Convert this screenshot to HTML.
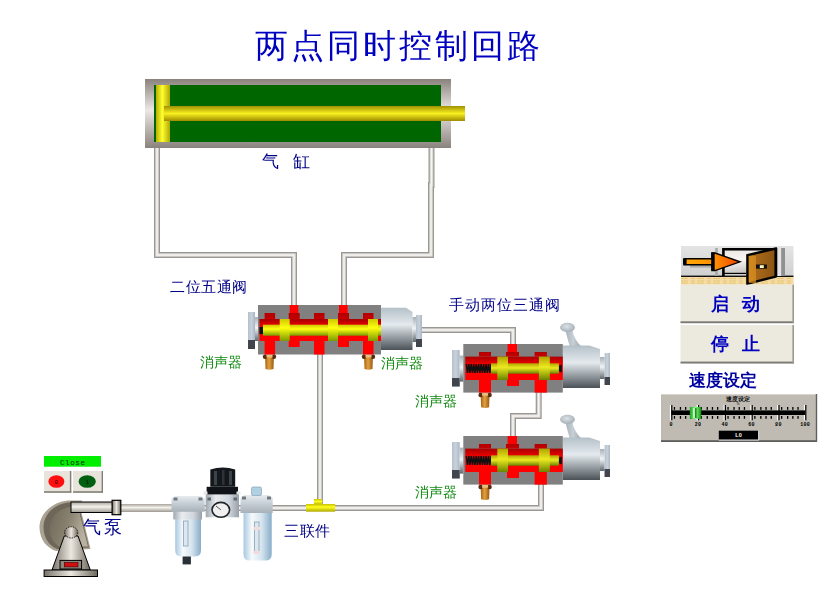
<!DOCTYPE html>
<html><head><meta charset="utf-8">
<style>
html,body{margin:0;padding:0;background:#fff;}
body{width:826px;height:596px;position:relative;overflow:hidden;font-family:"Liberation Sans",sans-serif;}
svg{position:absolute;left:0;top:0;}
.t{position:absolute;white-space:nowrap;line-height:1;font-weight:300;will-change:transform;}
.nv{color:#000088;font-weight:400;}
.ti{color:#0000c0;}
.gr{color:#108a10;font-weight:400;}
.b{font-weight:bold;color:#0000c0;}
</style></head><body>
<svg width="826" height="596" viewBox="0 0 826 596">

<defs>
  <linearGradient id="gFrame" x1="0" y1="0" x2="0" y2="1">
    <stop offset="0" stop-color="#8a827c"/><stop offset="0.45" stop-color="#ece8e6"/><stop offset="1" stop-color="#8a827c"/>
  </linearGradient>
  <linearGradient id="gPist" x1="0" y1="0" x2="1" y2="0">
    <stop offset="0" stop-color="#b8b000"/><stop offset="0.45" stop-color="#ffff30"/><stop offset="1" stop-color="#b0a800"/>
  </linearGradient>
  <linearGradient id="gRod" x1="0" y1="0" x2="0" y2="1">
    <stop offset="0" stop-color="#a09000"/><stop offset="0.5" stop-color="#f8f020"/><stop offset="1" stop-color="#a08c00"/>
  </linearGradient>
  <linearGradient id="gSpool" x1="0" y1="0" x2="0" y2="1">
    <stop offset="0" stop-color="#d0c800"/><stop offset="0.4" stop-color="#ffff10"/><stop offset="1" stop-color="#7a9a00"/>
  </linearGradient>
  <linearGradient id="gSpool2" x1="0" y1="0" x2="0" y2="1">
    <stop offset="0" stop-color="#b0a400"/><stop offset="0.45" stop-color="#ecea20"/><stop offset="1" stop-color="#6a8400"/>
  </linearGradient>
  <linearGradient id="gCap" x1="0" y1="0" x2="1" y2="0">
    <stop offset="0" stop-color="#b4c0cc"/><stop offset="0.5" stop-color="#c8d2dc"/><stop offset="1" stop-color="#aab6c2"/>
  </linearGradient>
  <linearGradient id="gNeck" x1="0" y1="0" x2="0" y2="1">
    <stop offset="0" stop-color="#a8b0b8"/><stop offset="0.45" stop-color="#f0f4f6"/><stop offset="1" stop-color="#60686e"/>
  </linearGradient>
  <linearGradient id="gBore" x1="0" y1="0" x2="0" y2="1">
    <stop offset="0" stop-color="#a80000"/><stop offset="0.4" stop-color="#ff0000"/><stop offset="1" stop-color="#ff0000"/>
  </linearGradient>
  <linearGradient id="gBump" x1="0" y1="0" x2="0" y2="1">
    <stop offset="0" stop-color="#b00000"/><stop offset="1" stop-color="#c80000"/>
  </linearGradient>
  <linearGradient id="gPilot" x1="0" y1="0" x2="0" y2="1">
    <stop offset="0" stop-color="#b4c0c8"/><stop offset="0.4" stop-color="#e4eaee"/><stop offset="1" stop-color="#4a5258"/>
  </linearGradient>
  <linearGradient id="gBrass" x1="0" y1="0" x2="1" y2="0">
    <stop offset="0" stop-color="#a86010"/><stop offset="0.45" stop-color="#e0a040"/><stop offset="1" stop-color="#9a5810"/>
  </linearGradient>
  <linearGradient id="gTee" x1="0" y1="0" x2="0" y2="1">
    <stop offset="0" stop-color="#c8c000"/><stop offset="0.4" stop-color="#ffff20"/><stop offset="1" stop-color="#b0a800"/>
  </linearGradient>
  <linearGradient id="gPumpPipe" x1="0" y1="0" x2="0" y2="1">
    <stop offset="0" stop-color="#a8a49c"/><stop offset="0.45" stop-color="#f4f2ec"/><stop offset="1" stop-color="#9c9890"/>
  </linearGradient>
  <linearGradient id="gCone" x1="0" y1="0" x2="1" y2="0">
    <stop offset="0" stop-color="#78726a"/><stop offset="0.5" stop-color="#ece8e0"/><stop offset="1" stop-color="#6e685e"/>
  </linearGradient>
  <linearGradient id="gSnail" x1="0" y1="0" x2="1" y2="1">
    <stop offset="0" stop-color="#c8c0b0"/><stop offset="0.5" stop-color="#7a7268"/><stop offset="1" stop-color="#b0a898"/>
  </linearGradient>
  <linearGradient id="gBowl" x1="0" y1="0" x2="1" y2="0">
    <stop offset="0" stop-color="#a8c8e0"/><stop offset="0.3" stop-color="#f6fafc"/><stop offset="0.65" stop-color="#d4e4ee"/><stop offset="1" stop-color="#88acc8"/>
  </linearGradient>
  <linearGradient id="gHead" x1="0" y1="0" x2="0" y2="1">
    <stop offset="0" stop-color="#e8ecf0"/><stop offset="0.5" stop-color="#c4ccd4"/><stop offset="1" stop-color="#a8b0b8"/>
  </linearGradient>
  <radialGradient id="gVol" cx="78" cy="532" r="40" gradientUnits="userSpaceOnUse">
    <stop offset="0" stop-color="#d8d0c0"/><stop offset="0.45" stop-color="#a89e8e"/><stop offset="0.75" stop-color="#6a6254"/><stop offset="0.88" stop-color="#7a7264"/><stop offset="0.95" stop-color="#b0a898"/><stop offset="1" stop-color="#c0b8a8"/>
  </radialGradient>
  <linearGradient id="gVol2" x1="0" y1="0" x2="1" y2="0.3">
    <stop offset="0" stop-color="#6e6658"/><stop offset="0.55" stop-color="#8a8270"/><stop offset="1" stop-color="#b8b0a0"/>
  </linearGradient>
  <linearGradient id="gSilv" x1="0" y1="0" x2="1" y2="0">
    <stop offset="0" stop-color="#a0a8b0"/><stop offset="0.3" stop-color="#e8ecf0"/><stop offset="0.7" stop-color="#d0d6dc"/><stop offset="1" stop-color="#98a0a8"/>
  </linearGradient>
  <linearGradient id="gIconBg" x1="0" y1="0" x2="0" y2="1">
    <stop offset="0" stop-color="#e4e4e4"/><stop offset="1" stop-color="#d0d0d0"/>
  </linearGradient>
  <linearGradient id="gFrameIn" x1="0" y1="0" x2="0.3" y2="1">
    <stop offset="0" stop-color="#e8e4e0"/><stop offset="0.5" stop-color="#f8f6f4"/><stop offset="1" stop-color="#c8c4c0"/>
  </linearGradient>
  <linearGradient id="gLever" x1="0" y1="0" x2="1" y2="0">
    <stop offset="0" stop-color="#a8b2ba"/><stop offset="0.5" stop-color="#c8d0d6"/><stop offset="1" stop-color="#98a4ac"/>
  </linearGradient>
  <radialGradient id="gBall" cx="0.45" cy="0.4" r="0.6">
    <stop offset="0" stop-color="#dce2e6"/><stop offset="1" stop-color="#a4b0b8"/>
  </radialGradient>
  <linearGradient id="gBtn" x1="0" y1="0" x2="0" y2="1">
    <stop offset="0" stop-color="#f2f0ea"/><stop offset="1" stop-color="#e4e0d6"/>
  </linearGradient>
  <linearGradient id="gArrow" x1="0" y1="0" x2="1" y2="0">
    <stop offset="0" stop-color="#ffa808"/><stop offset="0.55" stop-color="#ff9000"/><stop offset="1" stop-color="#f04000"/>
  </linearGradient>
  <linearGradient id="gDoor" x1="0" y1="0" x2="1" y2="0">
    <stop offset="0" stop-color="#c88020"/><stop offset="0.3" stop-color="#a86818"/><stop offset="1" stop-color="#8a5414"/>
  </linearGradient>
  <linearGradient id="gThumb" x1="0" y1="0" x2="1" y2="0">
    <stop offset="0" stop-color="#20a020"/><stop offset="0.5" stop-color="#80ff80"/><stop offset="1" stop-color="#109010"/>
  </linearGradient>
</defs>

<rect x="145" y="79" width="306" height="69" fill="url(#gFrame)" />
<rect x="154" y="85" width="287" height="57" fill="#006600" />
<rect x="156" y="85" width="14" height="57" fill="url(#gPist)" />
<rect x="164" y="106" width="301" height="15" fill="url(#gRod)" />
<polyline points="157,148 157,255 294,255 294,306" fill="none" stroke="#9a9692" stroke-width="6" stroke-linejoin="miter"/>
<polyline points="157,148 157,255 294,255 294,306" fill="none" stroke="#d8d6d2" stroke-width="3.6" stroke-linejoin="miter"/>
<polyline points="157,148 157,255 294,255 294,306" fill="none" stroke="#f6f5f3" stroke-width="1.4" stroke-linejoin="miter"/>
<polyline points="431.5,148 431.5,185 431,185 431,255 344,255 344,306" fill="none" stroke="#9a9692" stroke-width="6" stroke-linejoin="miter"/>
<polyline points="431.5,148 431.5,185 431,185 431,255 344,255 344,306" fill="none" stroke="#d8d6d2" stroke-width="3.6" stroke-linejoin="miter"/>
<polyline points="431.5,148 431.5,185 431,185 431,255 344,255 344,306" fill="none" stroke="#f6f5f3" stroke-width="1.4" stroke-linejoin="miter"/>
<polyline points="420,330 513,330 513,345" fill="none" stroke="#9a9692" stroke-width="6" stroke-linejoin="miter"/>
<polyline points="420,330 513,330 513,345" fill="none" stroke="#d8d6d2" stroke-width="3.6" stroke-linejoin="miter"/>
<polyline points="420,330 513,330 513,345" fill="none" stroke="#f6f5f3" stroke-width="1.4" stroke-linejoin="miter"/>
<polyline points="320,354 320,505" fill="none" stroke="#9a9692" stroke-width="6" stroke-linejoin="miter"/>
<polyline points="320,354 320,505" fill="none" stroke="#d8d6d2" stroke-width="3.6" stroke-linejoin="miter"/>
<polyline points="320,354 320,505" fill="none" stroke="#f6f5f3" stroke-width="1.4" stroke-linejoin="miter"/>
<polyline points="538.7,391 538.7,416 513,416 513,437" fill="none" stroke="#9a9692" stroke-width="6" stroke-linejoin="miter"/>
<polyline points="538.7,391 538.7,416 513,416 513,437" fill="none" stroke="#d8d6d2" stroke-width="3.6" stroke-linejoin="miter"/>
<polyline points="538.7,391 538.7,416 513,416 513,437" fill="none" stroke="#f6f5f3" stroke-width="1.4" stroke-linejoin="miter"/>
<polyline points="541,484 541,508 118,508" fill="none" stroke="#9a9692" stroke-width="6" stroke-linejoin="miter"/>
<polyline points="541,484 541,508 118,508" fill="none" stroke="#d8d6d2" stroke-width="3.6" stroke-linejoin="miter"/>
<polyline points="541,484 541,508 118,508" fill="none" stroke="#f6f5f3" stroke-width="1.4" stroke-linejoin="miter"/>
<g transform="translate(258,305)">
<rect x="-10" y="7" width="7" height="37" fill="url(#gCap)" />
<rect x="-10" y="35" width="7" height="9" fill="#40464c" />
<rect x="-3" y="12" width="3" height="24" fill="url(#gNeck)" />
<path d="M123,2.7 L148,2.7 L154.5,7 L154.5,45 L123,45 Z" fill="url(#gPilot)"/>
<rect x="154.5" y="12" width="3.5" height="25" fill="url(#gNeck)" />
<rect x="158" y="10" width="6" height="32" fill="url(#gCap)" />
<rect x="158" y="34" width="6" height="8" fill="#40464c" />
<rect x="0" y="0" width="123" height="49.5" fill="#808080" />
<rect x="1.5" y="14" width="121.5" height="22" fill="url(#gBore)" />
<rect x="6.6" y="8" width="10.5" height="6" fill="url(#gBump)" />
<rect x="56" y="8" width="10.5" height="6" fill="url(#gBump)" />
<rect x="105" y="8" width="10.5" height="6" fill="url(#gBump)" />
<rect x="31.7" y="0" width="8.6" height="8" fill="#ff0000" />
<rect x="30.7" y="8" width="11" height="6" fill="url(#gBump)" />
<rect x="81" y="0" width="8.6" height="8" fill="#ff0000" />
<rect x="80" y="8" width="11" height="6" fill="url(#gBump)" />
<rect x="6.6" y="36" width="10.5" height="13.5" fill="#ff0000" />
<rect x="56" y="36" width="10.5" height="13.5" fill="#ff0000" />
<rect x="105" y="36" width="10.5" height="13.5" fill="#ff0000" />
<rect x="30.7" y="36" width="11" height="6" fill="#ff0000" />
<rect x="80" y="36" width="11" height="6" fill="#ff0000" />
<rect x="5" y="19.7" width="118" height="11" fill="url(#gSpool)" />
<rect x="1.5" y="22" width="3.5" height="7" fill="#101010" />
<rect x="21.7" y="14" width="10" height="22" fill="url(#gSpool)" />
<rect x="70" y="14" width="10" height="22" fill="url(#gSpool)" />
<rect x="110" y="14" width="10" height="22" fill="url(#gSpool)" />
</g>
<path d="M265,355 L274,355 L273.5,369 Q269.5,370.5 265.5,369 Z" fill="url(#gBrass)"/>
<circle cx="265" cy="356.8" r="2.2" fill="#5a2a10"/>
<circle cx="274" cy="356.8" r="2.2" fill="#5a2a10"/>
<rect x="266.5" y="355" width="6" height="2.5" fill="#e8c080" />
<path d="M364,355 L373,355 L372.5,369 Q368.5,370.5 364.5,369 Z" fill="url(#gBrass)"/>
<circle cx="364" cy="356.8" r="2.2" fill="#5a2a10"/>
<circle cx="373" cy="356.8" r="2.2" fill="#5a2a10"/>
<rect x="365.5" y="355" width="6" height="2.5" fill="#e8c080" />
<g transform="translate(463.3,344)">
<rect x="-11.3" y="6" width="7.7" height="36.5" fill="url(#gCap)" />
<rect x="-11.3" y="34" width="7.7" height="8.5" fill="#40464c" />
<rect x="-3.6" y="11.6" width="3.6" height="26" fill="url(#gNeck)" />
<path d="M102,-14 L109,-14 Q111,-4 118,2.5 L106.5,2.5 Q104,-6 102,-14 Z" fill="url(#gLever)"/>
<ellipse cx="104.2" cy="-16.6" rx="7.5" ry="4.6" fill="url(#gBall)"/>
<path d="M99.4,1.6 L126,1.6 L136.7,5 L136.7,44 L99.4,44 Z" fill="url(#gPilot)"/>
<rect x="136.7" y="13" width="4.6" height="22" fill="url(#gNeck)" />
<rect x="141.3" y="9" width="5.4" height="32" fill="url(#gCap)" />
<rect x="141.3" y="33" width="5.4" height="8" fill="#40464c" />
<rect x="0" y="0" width="99.5" height="48.6" fill="#808080" />
<rect x="2" y="12.6" width="97.5" height="23.4" fill="url(#gBore)" />
<rect x="15.7" y="8" width="12" height="4.6" fill="url(#gBump)" />
<rect x="71.3" y="8" width="12.3" height="4.6" fill="url(#gBump)" />
<rect x="44.3" y="0" width="9.4" height="8" fill="#ff0000" />
<rect x="42.7" y="8" width="13" height="4.6" fill="url(#gBump)" />
<rect x="15.7" y="36" width="12" height="12.6" fill="#ff0000" />
<rect x="71.3" y="36" width="12.3" height="12.6" fill="#ff0000" />
<rect x="43.7" y="36" width="12" height="6" fill="#ff0000" />
<polyline points="3.0,20.0 4.2,29.0 5.5,20.0 6.7,29.0 7.9,20.0 9.2,29.0 10.4,20.0 11.6,29.0 12.9,20.0 14.1,29.0 15.3,20.0 16.6,29.0 17.8,20.0 19.1,29.0 20.3,20.0 21.5,29.0 22.8,20.0 24.0,29.0 25.2,20.0 26.5,29.0 27.7,20.0" fill="none" stroke="#101010" stroke-width="1.5"/>
<path d="M95,22 L98.5,20.5 L98.5,28.5 L95,27 Z" fill="#101010"/>
<rect x="27.7" y="19.3" width="67.9" height="10.4" fill="url(#gSpool2)" />
<rect x="34" y="12.6" width="10.7" height="23.4" fill="url(#gSpool2)" />
<rect x="75.6" y="12.6" width="10.9" height="23.4" fill="url(#gSpool2)" />
</g>
<path d="M480.6,393.2 L489.6,393.2 L489.1,407.2 Q485.1,408.7 481.1,407.2 Z" fill="url(#gBrass)"/>
<circle cx="480.6" cy="395.0" r="2.2" fill="#5a2a10"/>
<circle cx="489.6" cy="395.0" r="2.2" fill="#5a2a10"/>
<rect x="482.1" y="393.2" width="6" height="2.5" fill="#e8c080" />
<g transform="translate(463.3,436)">
<rect x="-11.3" y="6" width="7.7" height="36.5" fill="url(#gCap)" />
<rect x="-11.3" y="34" width="7.7" height="8.5" fill="#40464c" />
<rect x="-3.6" y="11.6" width="3.6" height="26" fill="url(#gNeck)" />
<path d="M102,-14 L109,-14 Q111,-4 118,2.5 L106.5,2.5 Q104,-6 102,-14 Z" fill="url(#gLever)"/>
<ellipse cx="104.2" cy="-16.6" rx="7.5" ry="4.6" fill="url(#gBall)"/>
<path d="M99.4,1.6 L126,1.6 L136.7,5 L136.7,44 L99.4,44 Z" fill="url(#gPilot)"/>
<rect x="136.7" y="13" width="4.6" height="22" fill="url(#gNeck)" />
<rect x="141.3" y="9" width="5.4" height="32" fill="url(#gCap)" />
<rect x="141.3" y="33" width="5.4" height="8" fill="#40464c" />
<rect x="0" y="0" width="99.5" height="48.6" fill="#808080" />
<rect x="2" y="12.6" width="97.5" height="23.4" fill="url(#gBore)" />
<rect x="15.7" y="8" width="12" height="4.6" fill="url(#gBump)" />
<rect x="71.3" y="8" width="12.3" height="4.6" fill="url(#gBump)" />
<rect x="44.3" y="0" width="9.4" height="8" fill="#ff0000" />
<rect x="42.7" y="8" width="13" height="4.6" fill="url(#gBump)" />
<rect x="15.7" y="36" width="12" height="12.6" fill="#ff0000" />
<rect x="71.3" y="36" width="12.3" height="12.6" fill="#ff0000" />
<rect x="43.7" y="36" width="12" height="6" fill="#ff0000" />
<polyline points="3.0,20.0 4.2,29.0 5.5,20.0 6.7,29.0 7.9,20.0 9.2,29.0 10.4,20.0 11.6,29.0 12.9,20.0 14.1,29.0 15.3,20.0 16.6,29.0 17.8,20.0 19.1,29.0 20.3,20.0 21.5,29.0 22.8,20.0 24.0,29.0 25.2,20.0 26.5,29.0 27.7,20.0" fill="none" stroke="#101010" stroke-width="1.5"/>
<path d="M95,22 L98.5,20.5 L98.5,28.5 L95,27 Z" fill="#101010"/>
<rect x="27.7" y="19.3" width="67.9" height="10.4" fill="url(#gSpool2)" />
<rect x="34" y="12.6" width="10.7" height="23.4" fill="url(#gSpool2)" />
<rect x="75.6" y="12.6" width="10.9" height="23.4" fill="url(#gSpool2)" />
</g>
<path d="M480.6,485.2 L489.6,485.2 L489.1,499.2 Q485.1,500.7 481.1,499.2 Z" fill="url(#gBrass)"/>
<circle cx="480.6" cy="487.0" r="2.2" fill="#5a2a10"/>
<circle cx="489.6" cy="487.0" r="2.2" fill="#5a2a10"/>
<rect x="482.1" y="485.2" width="6" height="2.5" fill="#e8c080" />
<rect x="314" y="499" width="8.3" height="6" fill="url(#gTee)" />
<rect x="306" y="504" width="29.2" height="7.7" fill="url(#gTee)" />
<rect x="120.8" y="504" width="52" height="8" fill="url(#gPumpPipe)"/>
<path d="M68,500.5 C52,502 39,514 39.5,528 C40,540 47,548 56,551 L90.5,549 L81.5,512.5 L82,500.5 Z" fill="#aaa292"/>
<path d="M68,502.5 C54,504 43,515 43.5,528 C44,539 50,546 57,549 L89,547.5 L80.5,513 L81,502.5 Z" fill="#6e6658"/>
<path d="M70,507 C58,509 49,518 49.5,530 C50,539 55,544 60,547 L88,546.5 L80,515 L80,507 Z" fill="url(#gVol2)"/>
<rect x="71" y="502" width="41.5" height="10.5" fill="url(#gPumpPipe)" stroke="#000" stroke-width="1"/>
<rect x="112.1" y="500.3" width="8.7" height="14.4" fill="url(#gCone)" stroke="#000" stroke-width="1.2"/>
<path d="M64.3,536 L52,570 L90.3,570 L78,536 Z" fill="url(#gCone)" stroke="#000" stroke-width="1"/>
<ellipse cx="71.2" cy="532.4" rx="6.6" ry="5.6" fill="url(#gCone)" stroke="#000" stroke-width="0.8" stroke-dasharray="1.5 1"/>
<rect x="44.1" y="570" width="53.4" height="6.5" fill="url(#gCone)" stroke="#000" stroke-width="1"/>
<rect x="60" y="560.4" width="21.6" height="8.6" fill="#8c867c" stroke="#000" stroke-width="1"/>
<rect x="64.3" y="562.5" width="13.7" height="4.4" fill="#d01010" stroke="#400000" stroke-width="0.6"/>
<rect x="44" y="456" width="57" height="10.7" fill="#00ee00"/>
<text x="72.5" y="464.6" font-family="Liberation Mono" font-size="7.5" text-anchor="middle" fill="#002000" textLength="25">Close</text>
<rect x="44" y="471" width="27.3" height="21.6" fill="#e8e4dc"/>
<rect x="44" y="491.2" width="27.3" height="1.6" fill="#808078"/>
<rect x="69.89999999999999" y="471" width="1.4" height="21.6" fill="#808078"/>
<rect x="73" y="471" width="30" height="21.6" fill="#e8e4dc"/>
<rect x="73" y="491.2" width="30" height="1.6" fill="#808078"/>
<rect x="101.6" y="471" width="1.4" height="21.6" fill="#808078"/>
<ellipse cx="56.4" cy="481.5" rx="8" ry="6.3" fill="#ff1010"/>
<ellipse cx="87.2" cy="481.5" rx="8.6" ry="6.3" fill="#006010"/>
<text x="56.4" y="484" font-family="Liberation Mono" font-size="6" text-anchor="middle" fill="#400000">0</text>
<text x="87.2" y="484" font-family="Liberation Mono" font-size="6" text-anchor="middle" fill="#001000">1</text>
<path d="M175.2,519 L201,519 L201,550 Q201,556.5 195,556.5 L181,556.5 Q175.2,556.5 175.2,550 Z" fill="url(#gBowl)"/>
<rect x="173.3" y="511" width="28.7" height="8.5" fill="url(#gSilv)"/>
<path d="M171.5,499 L175,496 L201,496 L204.7,499 L204.7,511.8 L171.5,511.8 Z" fill="url(#gHead)"/>
<rect x="173.5" y="497.5" width="4" height="3" fill="#707880"/>
<rect x="198.5" y="497.5" width="4" height="3" fill="#707880"/>
<rect x="183.5" y="521" width="4.5" height="25" fill="#dce8f0" stroke="#8aa0b4" stroke-width="0.8"/>
<rect x="182.6" y="556.5" width="8.3" height="7.9" fill="#283038"/>
<rect x="205.7" y="494.2" width="33.3" height="23.1" fill="url(#gSilv)"/>
<rect x="206.6" y="486.8" width="31.4" height="7.6" fill="#101418"/>
<rect x="203.5" y="491.5" width="4" height="3" fill="#e8e8e8"/>
<rect x="236.5" y="491.5" width="4" height="3" fill="#e8e8e8"/>
<path d="M210.3,469.5 Q222.7,465.5 235.2,469.5 L235.2,486.8 L210.3,486.8 Z" fill="#14181c"/>
<rect x="214" y="471" width="3" height="14" fill="#3c4448"/>
<rect x="222" y="470" width="2.5" height="15" fill="#2c3236"/>
<rect x="229" y="471" width="3" height="14" fill="#3c4448"/>
<rect x="207.5" y="497.5" width="3.5" height="3" fill="#606870"/>
<rect x="233.5" y="497.5" width="3.5" height="3" fill="#606870"/>
<ellipse cx="220.8" cy="509.8" rx="8.8" ry="7.4" fill="#f0f0f0" stroke="#202428" stroke-width="1.6"/>
<line x1="220.8" y1="509.8" x2="216" y2="506" stroke="#303030" stroke-width="0.8"/>
<path d="M243.5,513 L271.7,513 L271.7,554 Q271.7,560.6 265.5,560.6 L249.5,560.6 Q243.5,560.6 243.5,554 Z" fill="url(#gBowl)"/>
<path d="M240.5,498 L244,495 L269,495 L272.7,498 L272.7,513 L240.5,513 Z" fill="url(#gHead)"/>
<rect x="242" y="496.5" width="4" height="3" fill="#707880"/>
<rect x="267" y="496.5" width="4" height="3" fill="#707880"/>
<rect x="251.5" y="487" width="10" height="8.5" rx="1.5" fill="#b0d0e4" stroke="#8098a8" stroke-width="0.6"/>
<rect x="254.5" y="522" width="4.5" height="31" fill="#dce8f0" stroke="#8aa0b4" stroke-width="0.8"/>
<rect x="253.5" y="527" width="6.5" height="3" fill="#f4dada"/>
<rect x="253.5" y="551" width="6.5" height="3" fill="#f4dada"/>
<rect x="681" y="246" width="112.5" height="30" fill="url(#gIconBg)"/>
<rect x="681" y="276" width="112.5" height="8.7" fill="#f4dca4"/>
<line x1="681" y1="278.5" x2="793.5" y2="278.5" stroke="#e8c070" stroke-width="0.8" stroke-dasharray="7 3 4 2"/>
<line x1="681" y1="281" x2="793.5" y2="281" stroke="#e8c070" stroke-width="0.8" stroke-dasharray="7 3 4 2"/>
<line x1="681" y1="283.2" x2="793.5" y2="283.2" stroke="#e8c070" stroke-width="0.8" stroke-dasharray="7 3 4 2"/>
<rect x="681" y="275.6" width="112.5" height="1.4" fill="#101010"/>
<rect x="715.2" y="248" width="2.6" height="28" fill="#a8a8a8"/>
<rect x="777" y="248" width="4.2" height="28" fill="#e4e4e4"/>
<rect x="781.2" y="248" width="3.8" height="28" fill="#909090"/>
<rect x="723.4" y="249.2" width="52.5" height="24" fill="url(#gFrameIn)"/>
<path d="M723.4,276 L723.4,249.2 L776,249.2 L776,276" fill="none" stroke="#000" stroke-width="2.6"/>
<line x1="723.4" y1="273.4" x2="746" y2="273.4" stroke="#000" stroke-width="1.2"/>
<path d="M747.4,255.2 L775.6,248.5 L775.6,276.6 L747.4,283.8 Z" fill="url(#gDoor)" stroke="#000" stroke-width="2.4" stroke-linejoin="miter"/>
<rect x="749" y="256" width="7" height="27" fill="#d89020" opacity="0.7"/>
<rect x="756" y="264.5" width="10.9" height="4.2" fill="#101010"/>
<rect x="759.8" y="265.2" width="4" height="2.8" fill="#fff8c0"/>
<rect x="690" y="265" width="22" height="2.6" fill="#a8a8a8"/>
<path d="M684,258.8 L712,258.8 L712,253 L715,253 L740,261.8 L715,270.6 L712,270.6 L712,264.8 L684,264.8 Z" fill="url(#gArrow)" stroke="#000" stroke-width="1.4" stroke-linejoin="miter"/>
<rect x="711.2" y="252.4" width="3.5" height="18.2" fill="#000"/>
<rect x="683" y="259" width="3.6" height="5.6" fill="#000"/>
<rect x="680.5" y="284.7" width="113.5" height="38.5" fill="#ece9df"/>
<rect x="680.5" y="321.3" width="113.5" height="1.9" fill="#7c7a74"/>
<rect x="792.4" y="284.7" width="1.6" height="38.5" fill="#9c9a94"/>
<rect x="680.5" y="325" width="113.5" height="38.5" fill="#ece9df"/>
<rect x="680.5" y="361.6" width="113.5" height="1.9" fill="#7c7a74"/>
<rect x="792.4" y="325" width="1.6" height="38.5" fill="#9c9a94"/>
<rect x="661" y="394" width="156" height="47.6" fill="#bfbbb3"/>
<rect x="661" y="394" width="156" height="1" fill="#d8d4cc"/>
<rect x="661" y="440.4" width="156" height="1.4" fill="#404040"/>
<rect x="815.8" y="394" width="1.4" height="47.6" fill="#606060"/>
<rect x="669.9" y="405" width="1.3" height="15.3" fill="#ffffff"/>
<rect x="671.2" y="405" width="1.2" height="15.3" fill="#000"/>
<rect x="673.8" y="407" width="1.3" height="2.8" fill="#000"/>
<rect x="673.8" y="416" width="1.3" height="2.8" fill="#000"/>
<rect x="679.8" y="407" width="1.3" height="2.8" fill="#000"/>
<rect x="679.8" y="416" width="1.3" height="2.8" fill="#000"/>
<rect x="685.0" y="407" width="1.3" height="2.8" fill="#000"/>
<rect x="685.0" y="416" width="1.3" height="2.8" fill="#000"/>
<rect x="690.2" y="407" width="1.3" height="2.8" fill="#000"/>
<rect x="690.2" y="416" width="1.3" height="2.8" fill="#000"/>
<text x="671.2" y="426.3" font-family="Liberation Mono" font-size="5" font-weight="bold" text-anchor="middle" fill="#000" letter-spacing="0.3">0</text>
<rect x="696.7" y="405" width="1.3" height="15.3" fill="#ffffff"/>
<rect x="698.0" y="405" width="1.2" height="15.3" fill="#000"/>
<rect x="700.6" y="407" width="1.3" height="2.8" fill="#000"/>
<rect x="700.6" y="416" width="1.3" height="2.8" fill="#000"/>
<rect x="706.6" y="407" width="1.3" height="2.8" fill="#000"/>
<rect x="706.6" y="416" width="1.3" height="2.8" fill="#000"/>
<rect x="711.8" y="407" width="1.3" height="2.8" fill="#000"/>
<rect x="711.8" y="416" width="1.3" height="2.8" fill="#000"/>
<rect x="717.0" y="407" width="1.3" height="2.8" fill="#000"/>
<rect x="717.0" y="416" width="1.3" height="2.8" fill="#000"/>
<text x="698.0" y="426.3" font-family="Liberation Mono" font-size="5" font-weight="bold" text-anchor="middle" fill="#000" letter-spacing="0.3">20</text>
<rect x="723.5" y="405" width="1.3" height="15.3" fill="#ffffff"/>
<rect x="724.8" y="405" width="1.2" height="15.3" fill="#000"/>
<rect x="727.4" y="407" width="1.3" height="2.8" fill="#000"/>
<rect x="727.4" y="416" width="1.3" height="2.8" fill="#000"/>
<rect x="733.4" y="407" width="1.3" height="2.8" fill="#000"/>
<rect x="733.4" y="416" width="1.3" height="2.8" fill="#000"/>
<rect x="738.6" y="407" width="1.3" height="2.8" fill="#000"/>
<rect x="738.6" y="416" width="1.3" height="2.8" fill="#000"/>
<rect x="743.8" y="407" width="1.3" height="2.8" fill="#000"/>
<rect x="743.8" y="416" width="1.3" height="2.8" fill="#000"/>
<text x="724.8" y="426.3" font-family="Liberation Mono" font-size="5" font-weight="bold" text-anchor="middle" fill="#000" letter-spacing="0.3">40</text>
<rect x="750.3" y="405" width="1.3" height="15.3" fill="#ffffff"/>
<rect x="751.6" y="405" width="1.2" height="15.3" fill="#000"/>
<rect x="754.2" y="407" width="1.3" height="2.8" fill="#000"/>
<rect x="754.2" y="416" width="1.3" height="2.8" fill="#000"/>
<rect x="760.2" y="407" width="1.3" height="2.8" fill="#000"/>
<rect x="760.2" y="416" width="1.3" height="2.8" fill="#000"/>
<rect x="765.4" y="407" width="1.3" height="2.8" fill="#000"/>
<rect x="765.4" y="416" width="1.3" height="2.8" fill="#000"/>
<rect x="770.6" y="407" width="1.3" height="2.8" fill="#000"/>
<rect x="770.6" y="416" width="1.3" height="2.8" fill="#000"/>
<text x="751.6" y="426.3" font-family="Liberation Mono" font-size="5" font-weight="bold" text-anchor="middle" fill="#000" letter-spacing="0.3">60</text>
<rect x="777.1" y="405" width="1.3" height="15.3" fill="#ffffff"/>
<rect x="778.4" y="405" width="1.2" height="15.3" fill="#000"/>
<rect x="781.0" y="407" width="1.3" height="2.8" fill="#000"/>
<rect x="781.0" y="416" width="1.3" height="2.8" fill="#000"/>
<rect x="787.0" y="407" width="1.3" height="2.8" fill="#000"/>
<rect x="787.0" y="416" width="1.3" height="2.8" fill="#000"/>
<rect x="792.2" y="407" width="1.3" height="2.8" fill="#000"/>
<rect x="792.2" y="416" width="1.3" height="2.8" fill="#000"/>
<rect x="797.4" y="407" width="1.3" height="2.8" fill="#000"/>
<rect x="797.4" y="416" width="1.3" height="2.8" fill="#000"/>
<text x="778.4" y="426.3" font-family="Liberation Mono" font-size="5" font-weight="bold" text-anchor="middle" fill="#000" letter-spacing="0.3">80</text>
<rect x="803.9" y="405" width="1.3" height="15.3" fill="#ffffff"/>
<rect x="805.2" y="405" width="1.2" height="15.3" fill="#000"/>
<text x="805.2" y="426.3" font-family="Liberation Mono" font-size="5" font-weight="bold" text-anchor="middle" fill="#000" letter-spacing="0.3">100</text>
<rect x="671.4" y="410.4" width="133.8" height="4.6" fill="#000"/>
<rect x="689.8" y="406.9" width="11.4" height="11.9" fill="url(#gThumb)"/>
<rect x="693.2" y="408" width="1.3" height="10" fill="#e8ffe8"/>
<rect x="695.3" y="408" width="1.1" height="10" fill="#0a500a"/>
<rect x="718.8" y="430.7" width="39.5" height="9" fill="#000"/>
<rect x="718.8" y="439.7" width="39.5" height="0.8" fill="#f0f0f0"/>
<rect x="758.3" y="430.7" width="0.8" height="9.8" fill="#f0f0f0"/>
<text x="738.5" y="437.2" font-family="Liberation Sans" font-size="5.5" font-weight="bold" text-anchor="middle" fill="#fff">L0</text>
<text x="738" y="401" font-family="Liberation Sans" font-size="6" font-weight="bold" text-anchor="middle" fill="#101010">速度设定</text>
<text x="738" y="405" font-family="Liberation Sans" font-size="3.5" text-anchor="middle" fill="#000">%</text>
</svg>
<div class="t ti" style="left:255px;top:29px;font-size:33px;letter-spacing:3px;">两点同时控制回路</div>
<div class="t nv" style="left:262px;top:153px;font-size:17px;letter-spacing:0px;">气</div>
<div class="t nv" style="left:292.5px;top:153px;font-size:17px;letter-spacing:0px;">缸</div>
<div class="t nv" style="left:170px;top:279px;font-size:15px;letter-spacing:0.5px;">二位五通阀</div>
<div class="t gr" style="left:200px;top:356px;font-size:13.5px;letter-spacing:0px;">消声器</div>
<div class="t gr" style="left:381px;top:357px;font-size:13.5px;letter-spacing:0px;">消声器</div>
<div class="t gr" style="left:415px;top:395px;font-size:13.5px;letter-spacing:0px;">消声器</div>
<div class="t gr" style="left:415px;top:486px;font-size:13.5px;letter-spacing:0px;">消声器</div>
<div class="t nv" style="left:449px;top:297px;font-size:15px;letter-spacing:1.0px;">手动两位三通阀</div>
<div class="t nv" style="left:83px;top:518px;font-size:18px;letter-spacing:0px;">气</div>
<div class="t nv" style="left:104px;top:518px;font-size:18px;letter-spacing:0px;">泵</div>
<div class="t nv" style="left:284px;top:523px;font-size:15px;letter-spacing:0.5px;">三联件</div>
<div class="t b" style="left:711px;top:295px;font-size:18px;letter-spacing:0px;font-weight:bold;">启</div>
<div class="t b" style="left:742px;top:295px;font-size:18px;letter-spacing:0px;font-weight:bold;">动</div>
<div class="t b" style="left:711px;top:335px;font-size:18px;letter-spacing:0px;font-weight:bold;">停</div>
<div class="t b" style="left:742px;top:335px;font-size:18px;letter-spacing:0px;font-weight:bold;">止</div>
<div class="t b" style="left:689px;top:372px;font-size:16.5px;letter-spacing:0px;font-weight:bold;color:#0000a0;">速度设定</div>
</body></html>
